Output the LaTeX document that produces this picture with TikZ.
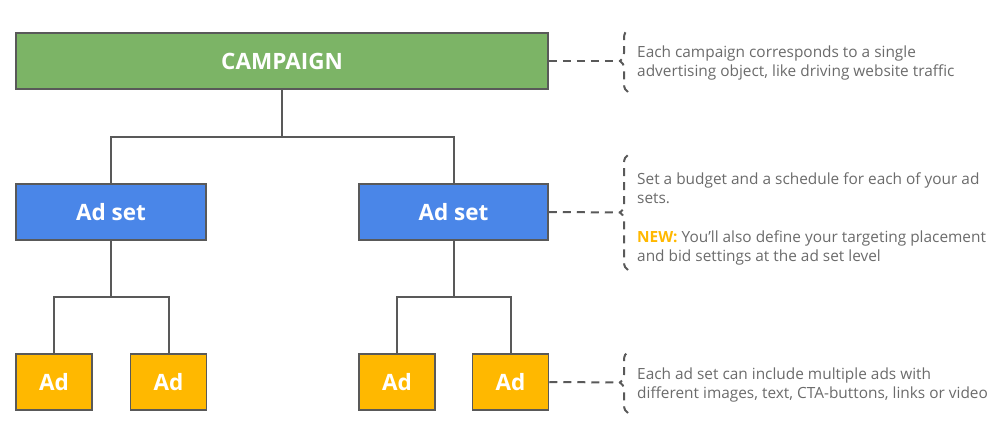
\documentclass[tikz,border=0pt]{standalone}
\usepackage{fontspec}
\setmainfont{Open Sans}
\usetikzlibrary{decorations.pathreplacing}
\definecolor{campgreen}{HTML}{7CB466}
\definecolor{setblue}{HTML}{4A86E8}
\definecolor{adorange}{HTML}{FFB800}
\definecolor{edgegray}{HTML}{595959}
\definecolor{notegray}{HTML}{6B6B6B}
\begin{document}
\begin{tikzpicture}[x=1pt, y=-1pt,
  box/.style={draw=edgegray, line width=1.5pt, minimum height=56pt, inner sep=0pt,
    text=white, font=\bfseries\fontsize{22.5}{26}\selectfont},
  link/.style={draw=edgegray, line width=2pt},
  pointer/.style={draw=edgegray, line width=2pt, dash pattern=on 8pt off 6pt},
  curly/.style={draw=edgegray, line width=2pt, dash pattern=on 8pt off 6pt,
    decorate, decoration={brace, amplitude=8pt}},
  note/.style={anchor=west, align=left, text=notegray, inner sep=0pt,
    font=\fontsize{15.4}{19}\selectfont}]
\useasboundingbox (0,0) rectangle (999,446);
% boxes
\node[box, fill=campgreen, minimum width=532pt] (camp) at (282,61) {CAMPAIGN};
\node[box, fill=setblue, minimum width=190pt] (setL) at (111,212) {Ad set};
\node[box, fill=setblue, minimum width=189pt] (setR) at (453.5,212) {Ad set};
\node[box, fill=adorange, minimum width=76pt] (ad1) at (54,382) {Ad};
\node[box, fill=adorange, minimum width=76pt] (ad2) at (168.5,382) {Ad};
\node[box, fill=adorange, minimum width=76pt] (ad3) at (397,382) {Ad};
\node[box, fill=adorange, minimum width=76pt] (ad4) at (510.5,382) {Ad};
% tree
\coordinate (j0) at (282,137);
\coordinate (jL) at (111,297);
\coordinate (jR) at (453.5,297);
\draw[link] (camp.south) -- (j0) -| (setL.north);
\draw[link] (j0) -| (setR.north);
\draw[link] (setL.south) -- (jL) -| (ad1.north);
\draw[link] (jL) -| (ad2.north);
\draw[link] (setR.south) -- (jR) -| (ad3.north);
\draw[link] (jR) -| (ad4.north);
% braces
\draw[curly] (628,92) -- (628,30);
\draw[curly] (628,270) -- (628,155);
\draw[curly] (628,413) -- (628,352);
\coordinate (t1) at (620,61);
\coordinate (t2) at (620,212.5);
\coordinate (t3) at (620,382.5);
\draw[pointer] (camp.east) -- (t1);
\draw[pointer] (setR.east) -- (t2);
\draw[pointer] (ad4.east) -- (t3);
% notes
\node[note] (n1) at (637,63.5) {Each campaign corresponds to a single\\advertising object, like driving website traffic};
\node[note] (n2) at (637,218.5) {Set a budget and a schedule for each of your ad\\sets.\\[20pt]\textcolor{adorange}{\bfseries NEW:} You'll also define your targeting placement\\and bid settings at the ad set level};
\node[note] (n3) at (637,384.5) {Each ad set can include multiple ads with\\different images, text, CTA-buttons, links or video};
\end{tikzpicture}
\end{document}
